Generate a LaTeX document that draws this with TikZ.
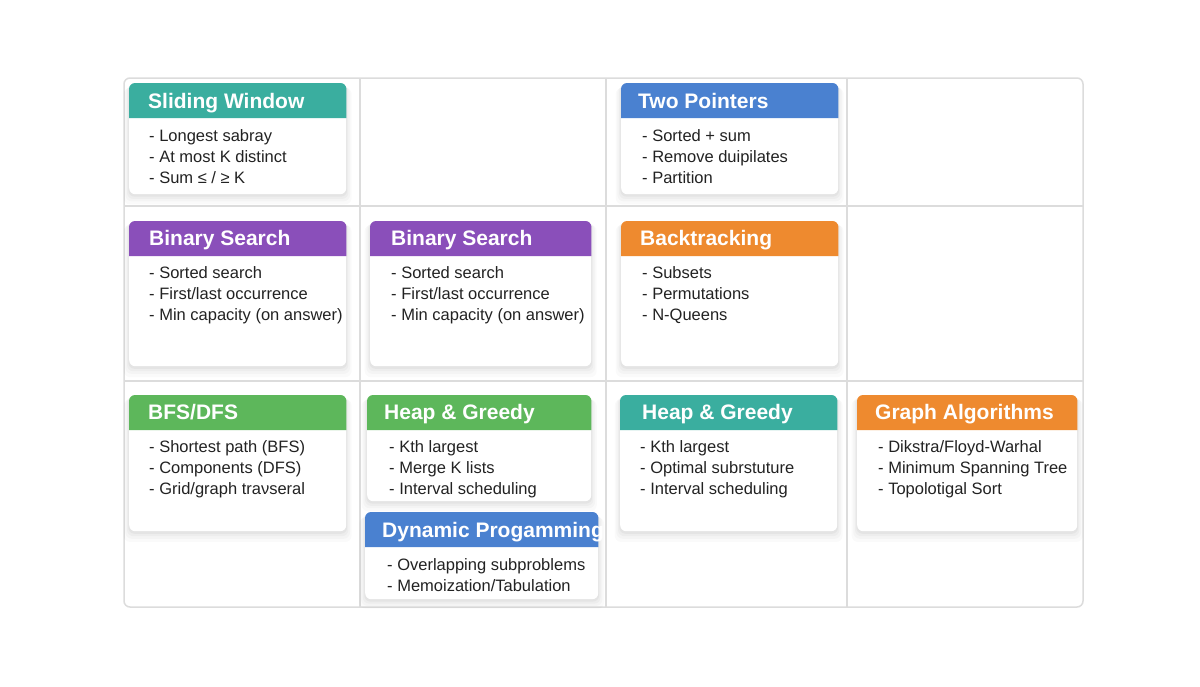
\documentclass[tikz,border=0pt]{standalone}
\usepackage{fontspec}
\setmainfont{Liberation Sans}
\usetikzlibrary{shadows,calc}
\definecolor{cteal}{HTML}{3AAE9F}
\definecolor{cpurple}{HTML}{8A4FBA}
\definecolor{cblue}{HTML}{4A81D0}
\definecolor{corange}{HTML}{EE8A2F}
\definecolor{cgreen}{HTML}{5DB75B}
\definecolor{cgrid}{HTML}{DCDCDC}
\definecolor{ctext}{HTML}{222222}
\tikzset{
  card/.style={fill=white, rounded corners=6pt, anchor=north west, inner sep=0pt,
    general shadow={fill=black, opacity=0.018, shadow yshift=-7pt, shadow scale=1.05},
    general shadow={fill=black, opacity=0.022, shadow yshift=-5pt, shadow scale=1.035},
    general shadow={fill=black, opacity=0.028, shadow yshift=-3.5pt, shadow scale=1.02},
    general shadow={fill=black, opacity=0.035, shadow yshift=-2pt, shadow scale=1.008}},
  ttl/.style={text=white, font=\fontsize{21}{25}\selectfont\bfseries, anchor=base west, inner sep=0pt},
  bdy/.style={text=ctext, font=\fontsize{16.5}{21}\selectfont, align=left, anchor=north west, inner sep=0pt},
  gridline/.style={draw=cgrid, line width=1.5pt},
}
\newcommand\hdr[2]{\fill[#2] ([yshift=-35pt]#1.north west) [rounded corners=6pt] -- (#1.north west) -- (#1.north east) [sharp corners] -- ([yshift=-35pt]#1.north east) -- cycle;}
\begin{document}
\begin{tikzpicture}[x=1pt,y=-1pt]
\fill[white] (0,0) rectangle (1200,686);
\useasboundingbox (0,0) rectangle (1200,686);
% grid
\draw[gridline, rounded corners=6pt] (124,78) rectangle (1083,607);
\draw[gridline] (360,78) -- (360,607);
\draw[gridline] (606,78) -- (606,607);
\draw[gridline] (847,78) -- (847,607);
\draw[gridline] (124,206) -- (1083,206);
\draw[gridline] (124,381) -- (1083,381);

% Sliding Window
\node[card, minimum width=217pt, minimum height=111pt] (sw) at (129,83) {};
\hdr{sw}{cteal}
\node[ttl] (swt) at ([xshift=19pt,yshift=-25pt]sw.north west) {Sliding Window};
\node[bdy] (swb) at ([xshift=20pt,yshift=-45pt]sw.north west) {\rule{0pt}{13pt}- Longest sabray\\- At most K distinct\\- Sum ≤ / ≥ K};

% Two Pointers
\node[card, minimum width=217pt, minimum height=111pt] (tp) at (621,83) {};
\hdr{tp}{cblue}
\node[ttl] (tpt) at ([xshift=17pt,yshift=-25pt]tp.north west) {Two Pointers};
\node[bdy] (tpb) at ([xshift=21pt,yshift=-45pt]tp.north west) {\rule{0pt}{13pt}- Sorted + sum\\- Remove duipilates\\- Partition};

% Binary Search 1
\node[card, minimum width=217pt, minimum height=145pt] (bs1) at (129,221) {};
\hdr{bs1}{cpurple}
\node[ttl] (bs1t) at ([xshift=20pt,yshift=-24pt]bs1.north west) {Binary Search};
\node[bdy] (bs1b) at ([xshift=20pt,yshift=-44pt]bs1.north west) {\rule{0pt}{13pt}- Sorted search\\- First/last occurrence\\- Min capacity (on answer)};

% Binary Search 2
\node[card, minimum width=221pt, minimum height=145pt] (bs2) at (370,221) {};
\hdr{bs2}{cpurple}
\node[ttl] (bs2t) at ([xshift=21pt,yshift=-24pt]bs2.north west) {Binary Search};
\node[bdy] (bs2b) at ([xshift=21pt,yshift=-44pt]bs2.north west) {\rule{0pt}{13pt}- Sorted search\\- First/last occurrence\\- Min capacity (on answer)};

% Backtracking
\node[card, minimum width=217pt, minimum height=145pt] (bt) at (621,221) {};
\hdr{bt}{corange}
\node[ttl] (btt) at ([xshift=19pt,yshift=-24pt]bt.north west) {Backtracking};
\node[bdy] (btb) at ([xshift=21pt,yshift=-44pt]bt.north west) {\rule{0pt}{13pt}- Subsets\\- Permutations\\- N-Queens};

% BFS/DFS
\node[card, minimum width=217pt, minimum height=136pt] (bfs) at (129,395) {};
\hdr{bfs}{cgreen}
\node[ttl] (bfst) at ([xshift=19pt,yshift=-24pt]bfs.north west) {BFS/DFS};
\node[bdy] (bfsb) at ([xshift=20pt,yshift=-44pt]bfs.north west) {\rule{0pt}{13pt}- Shortest path (BFS)\\- Components (DFS)\\- Grid/graph traνseral};

% Heap & Greedy (green)
\node[card, minimum width=224pt, minimum height=106pt] (hg1) at (367,395) {};
\hdr{hg1}{cgreen}
\node[ttl] (hg1t) at ([xshift=17pt,yshift=-24pt]hg1.north west) {Heap \& Greedy};
\node[bdy] (hg1b) at ([xshift=22pt,yshift=-44pt]hg1.north west) {\rule{0pt}{13pt}- Kth largest\\- Merge K lists\\- Interval scheduling};

% Dynamic Programming
\node[card, minimum width=233pt, minimum height=87pt] (dp) at (365,512) {};
\hdr{dp}{cblue}
\node[ttl] (dpt) at ([xshift=17pt,yshift=-25pt]dp.north west) {Dynamic Progamming};
\node[bdy] (dpb) at ([xshift=22pt,yshift=-45pt]dp.north west) {\rule{0pt}{13pt}- Overlapping subproblems\\- Memoization/Tabulation};

% Heap & Greedy (teal)
\node[card, minimum width=217pt, minimum height=136pt] (hg2) at (620,395) {};
\hdr{hg2}{cteal}
\node[ttl] (hg2t) at ([xshift=22pt,yshift=-24pt]hg2.north west) {Heap \& Greedy};
\node[bdy] (hg2b) at ([xshift=20pt,yshift=-44pt]hg2.north west) {\rule{0pt}{13pt}- Kth largest\\- Optimal subrstuture\\- Interval scheduling};

% Graph Algorithms
\node[card, minimum width=220pt, minimum height=136pt] (ga) at (857,395) {};
\hdr{ga}{corange}
\node[ttl] (gat) at ([xshift=18pt,yshift=-24pt]ga.north west) {Graph Algorithms};
\node[bdy] (gab) at ([xshift=21pt,yshift=-44pt]ga.north west) {\rule{0pt}{13pt}- Dikstra/Floyd-Warhal\\- Minimum Spanning Tree\\- Topolotigal Sort};
\end{tikzpicture}
\end{document}
